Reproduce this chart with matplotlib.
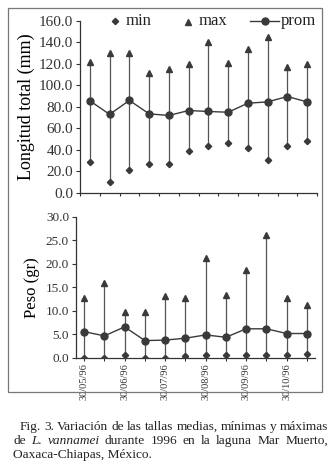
import matplotlib
matplotlib.use("Agg")
import matplotlib.pyplot as plt
from matplotlib.patches import Rectangle
from matplotlib.ticker import FormatStrFormatter

plt.rcParams["font.family"] = ["Liberation Serif", "DejaVu Serif"]

W, H = 332, 476

# sampling dates, every ~15 days; only month ends are labelled
DATE_LABELS = ["30/05/96", "30/06/96", "30/07/96", "30/08/96", "30/09/96", "30/10/96"]
N_SAMPLES = 12

len_min = [29, 10, 21, 27, 27, 39, 44, 46, 42, 31, 44, 48]
len_max = [122, 130, 130, 111, 115, 120, 140, 121, 134, 145, 117, 120]
len_prom = [85.6, 73, 86, 73.5, 72, 76.6, 75.7, 75, 83.4, 84.6, 89.6, 84.6]

peso_min = [0, 0, 0.6, 0, 0, 0.35, 0.6, 0.7, 0.6, 0.6, 0.7, 0.85]
peso_max = [12.8, 16, 9.7, 9.7, 13.2, 12.8, 21.2, 13.3, 18.6, 26.1, 12.8, 11.3]
peso_prom = [5.6, 4.7, 6.6, 3.7, 3.8, 4.2, 4.9, 4.4, 6.2, 6.2, 5.2, 5.2]

SERIES_NAMES = ["min", "max", "prom"]

MARK = "#3a3a3a"
VLINE = "#555555"


def px_box(x0, y0, x1, y1):
    # pixel box (top-left origin) -> figure fraction rect
    return [x0 / W, 1 - y1 / H, (x1 - x0) / W, (y1 - y0) / H]


def draw_series(ax, mins, maxs, prom):
    x = list(range(N_SAMPLES))
    ax.vlines(x, mins, maxs, color=VLINE, lw=0.9, zorder=1)
    ax.plot(x, mins, "D", color=MARK, ms=3.2, zorder=3)
    ax.plot(x, maxs, "^", color=MARK, ms=4.5, zorder=3)
    ax.plot(x, prom, "-o", color=MARK, ms=5, lw=1.0, zorder=2)


def style_axes(ax):
    for side in ("top", "right"):
        ax.spines[side].set_visible(False)
    for side in ("left", "bottom"):
        ax.spines[side].set_color("#333333")
        ax.spines[side].set_linewidth(0.9)
    ax.tick_params(direction="out", length=3, width=0.8, colors="#333333")
    ax.yaxis.set_major_formatter(FormatStrFormatter("%.1f"))


fig = plt.figure(figsize=(W / 100, H / 100), dpi=100)
fig.patch.set_facecolor("white")

# outer frame around both panels
fig.patches.append(Rectangle((8 / W, 1 - 392 / H), 314 / W, 384 / H,
                             transform=fig.transFigure, fill=False,
                             edgecolor="#777777", lw=0.9))

# top panel: length
ax1 = fig.add_axes(px_box(80, 20.7, 317, 193))
draw_series(ax1, len_min, len_max, len_prom)
style_axes(ax1)
ax1.set_xlim(-0.5, N_SAMPLES - 0.5)
ax1.set_ylim(0, 160)
ax1.set_yticks(range(0, 161, 20))
ax1.set_xticks([i - 0.5 for i in range(N_SAMPLES + 1)])
ax1.set_xticklabels([])
ax1.tick_params(axis="x", length=2)
ax1.tick_params(axis="y", labelsize=11, pad=2)
ax1.set_ylabel("Longitud total (mm)", fontsize=13, labelpad=3)

# bottom panel: weight
ax2 = fig.add_axes(px_box(76, 216.7, 315, 358))
draw_series(ax2, peso_min, peso_max, peso_prom)
style_axes(ax2)
ax2.set_xlim(-0.4, N_SAMPLES - 0.6)
ax2.set_ylim(0, 30)
ax2.set_yticks(range(0, 31, 5))
ax2.set_xticks(range(0, N_SAMPLES, 2))
ax2.set_xticks(range(1, N_SAMPLES, 2), minor=True)
ax2.set_xticklabels(DATE_LABELS, rotation=90, fontsize=7.5, va="top", ha="center")
ax2.tick_params(axis="x", which="both", length=2, pad=2)
ax2.tick_params(axis="y", labelsize=9.5, pad=2)
ax2.set_ylabel("Peso (gr)", fontsize=12, labelpad=4)

# legend drawn by hand on a pixel-space overlay (compact, like the original)
ov = fig.add_axes([0, 0, 1, 1], zorder=5)
ov.set_xlim(0, W)
ov.set_ylim(H, 0)
ov.axis("off")
ov.patch.set_alpha(0)
ly = 21
ov.plot([115], [ly], "D", color=MARK, ms=3.2)
ov.plot([188], [ly + 1], "^", color=MARK, ms=4.5)
ov.plot([250, 279], [ly, ly], "-", color=MARK, lw=1.0)
ov.plot([265], [ly], "o", color=MARK, ms=5)
for name, tx in zip(SERIES_NAMES, [126, 199, 281]):
    ov.text(tx, ly, name, fontsize=12, va="center", ha="left", color="#222222")

# caption, justified like the printed page
CAPTION_LINES = [
    [("Fig.", "normal"), ("3.", "normal"), ("Variación", "normal"), ("de", "normal"),
     ("las", "normal"), ("tallas", "normal"), ("medias,", "normal"),
     ("mínimas", "normal"), ("y", "normal"), ("máximas", "normal")],
    [("de", "normal"), ("L.", "italic"), ("vannamei", "italic"), ("durante", "normal"),
     ("1996", "normal"), ("en", "normal"), ("la", "normal"), ("laguna", "normal"),
     ("Mar", "normal"), ("Muerto,", "normal")],
]
CAPTION_LAST = "Oaxaca-Chiapas, México."
cap_size = 9.6
line_x0 = [20, 13]
line_x1 = 328
line_y = [427, 441]

renderer = fig.canvas.get_renderer()
for words, x0, y in zip(CAPTION_LINES, line_x0, line_y):
    texts = [fig.text(0, 1 - y / H, w, fontsize=cap_size, style=s, va="center",
                      color="#222222") for w, s in words]
    widths = [t.get_window_extent(renderer).width for t in texts]
    gap = (line_x1 - x0 - sum(widths)) / (len(texts) - 1)
    x = x0
    for t, wd in zip(texts, widths):
        t.set_x(x / W)
        x += wd + gap
fig.text(13 / W, 1 - 455 / H, CAPTION_LAST, fontsize=cap_size, va="center",
         color="#222222")

fig.savefig("out.png", dpi=100, facecolor="white")
